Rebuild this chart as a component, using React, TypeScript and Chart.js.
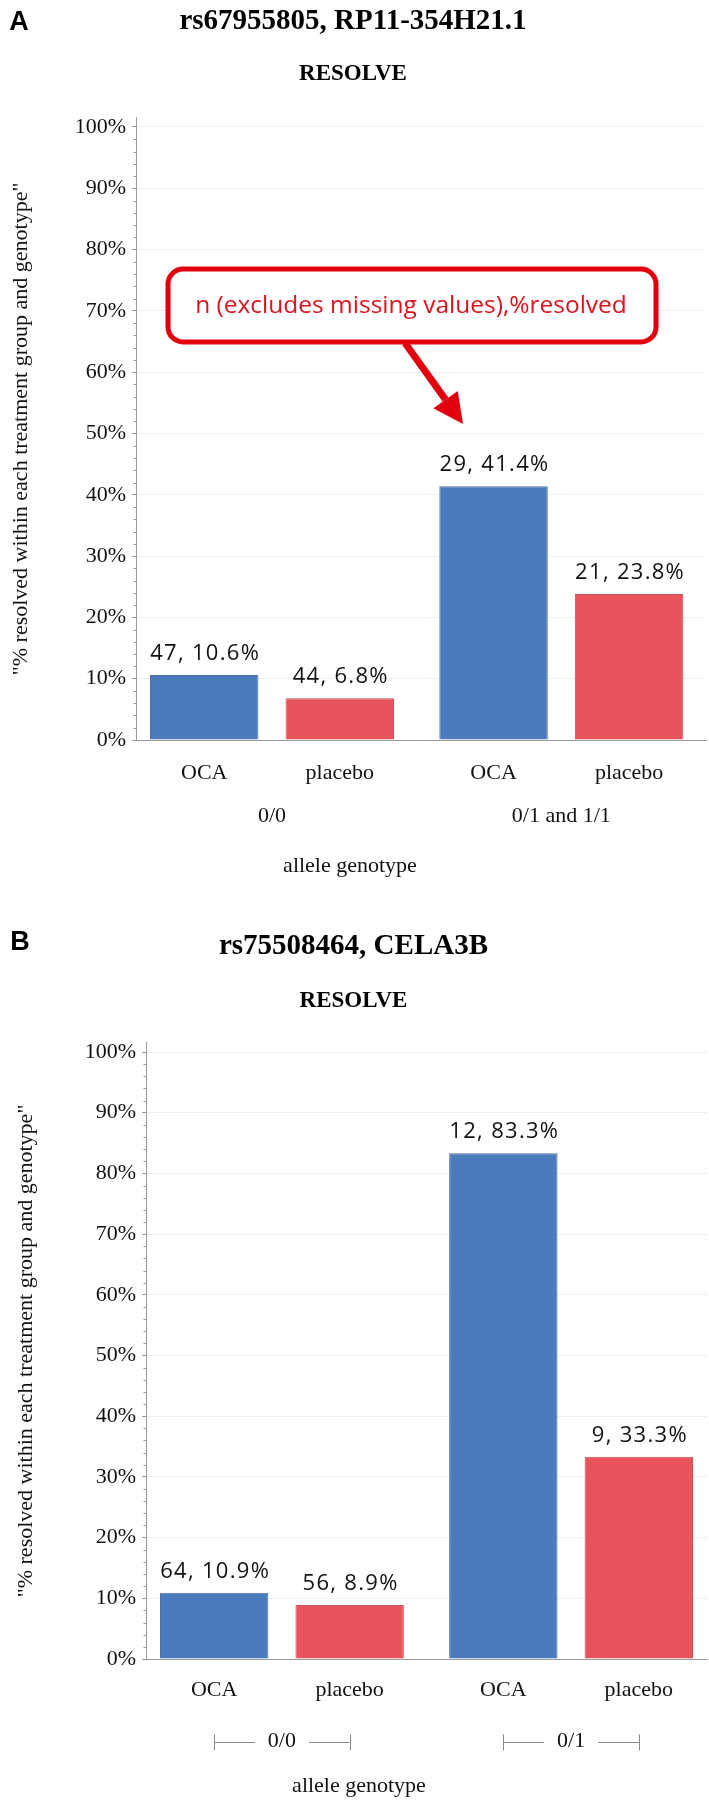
import React, { useEffect, useRef } from 'react';
import { Chart, registerables } from 'chart.js';

Chart.register(...registerables);

// ---------------- data ----------------
const TREATMENTS = ['OCA', 'placebo'];

const GENOTYPES_A = ['0/0', '0/1 and 1/1'];
const N_OCA_A = [47, 29];
const N_PLACEBO_A = [44, 21];
const PCT_OCA_A = [10.6, 41.4];
const PCT_PLACEBO_A = [6.8, 23.8];

const GENOTYPES_B = ['0/0', '0/1'];
const N_OCA_B = [64, 12];
const N_PLACEBO_B = [56, 9];
const PCT_OCA_B = [10.9, 83.3];
const PCT_PLACEBO_B = [8.9, 33.3];

const Y_TICK_VALUES = [0, 10, 20, 30, 40, 50, 60, 70, 80, 90, 100];
const Y_MINOR_STEP = 2;
const Y_MAX = 101.5;

const TITLE_A = 'rs67955805, RP11-354H21.1';
const TITLE_B = 'rs75508464, CELA3B';
const SUBTITLE = 'RESOLVE';
const Y_TITLE = '"% resolved within each treatment group and genotype"';
const X_TITLE = 'allele genotype';
const ANNOTATION = 'n (excludes missing values),%resolved';

// ---------------- styles ----------------
const BLUE = '#4a7bbd';
const BLUE_EDGE = '#4f6f9e';
const RED = '#e8535c';
const RED_EDGE = '#c0545a';
const AXIS = '#9b9b9b';
const SERIF = '"Liberation Serif", "Times New Roman", serif';
const SANS = '"Open Sans", "Noto Sans", sans-serif';

type Layout = {
  letter: string;
  height: number;
  axisX: number;
  rightPad: number;
  catPadStart: number;
  catPadEnd: number;
  titlePadTop: number;
  subPadTop: number;
  subPadBottom: number;
  bottomPad: number;
  yTitlePad: number;
  letterX: number;
  letterY: number;
  treatOff: number;
  groupOff: number;
  xTitleOff: number;
  xTitleX: number;
  brackets: boolean;
  annotation: boolean;
};

const LAYOUT_A: Layout = {
  letter: 'A', height: 900, axisX: 136, rightPad: 3,
  catPadStart: 0.47, catPadEnd: 0.5,
  titlePadTop: 4.6, subPadTop: 21.3, subPadBottom: 29.5, bottomPad: 160,
  yTitlePad: 8, letterX: 19, letterY: 23,
  treatOff: 33, groupOff: 76.5, xTitleOff: 126, xTitleX: 350,
  brackets: false, annotation: true,
};

const LAYOUT_B: Layout = {
  letter: 'B', height: 902, axisX: 146, rightPad: 2,
  catPadStart: 0.47, catPadEnd: 0.47,
  titlePadTop: 29.6, subPadTop: 23.3, subPadBottom: 27.6, bottomPad: 143,
  yTitlePad: 13, letterX: 20, letterY: 43,
  treatOff: 31, groupOff: 82.5, xTitleOff: 127, xTitleX: 359,
  brackets: true, annotation: false,
};

function roundRectPath(ctx: CanvasRenderingContext2D, x: number, y: number, w: number, h: number, r: number) {
  ctx.beginPath();
  ctx.moveTo(x + r, y);
  ctx.arcTo(x + w, y, x + w, y + h, r);
  ctx.arcTo(x + w, y + h, x, y + h, r);
  ctx.arcTo(x, y + h, x, y, r);
  ctx.arcTo(x, y, x + w, y, r);
  ctx.closePath();
}

function makeDecor(L: Layout, groups: string[], counts: number[][], pcts: number[][]) {
  return {
    id: 'decor' + L.letter,
    afterDraw(chart: any) {
      const { ctx, chartArea } = chart;
      const xs = chart.scales.x;
      const ys = chart.scales.y;
      ctx.save();

      // minor ticks on y axis
      ctx.strokeStyle = AXIS;
      ctx.lineWidth = 1;
      for (let v = 0; v <= 100; v += Y_MINOR_STEP) {
        if (Y_TICK_VALUES.includes(v)) continue;
        const y = Math.round(ys.getPixelForValue(v)) + 0.5;
        ctx.beginPath();
        ctx.moveTo(chartArea.left - 2.5, y);
        ctx.lineTo(chartArea.left, y);
        ctx.stroke();
      }

      // panel letter
      ctx.fillStyle = '#000';
      ctx.font = 'bold 27px "Liberation Sans", Arial, sans-serif';
      ctx.textAlign = 'center';
      ctx.textBaseline = 'middle';
      ctx.fillText(L.letter, L.letterX, L.letterY);

      // value labels + treatment labels
      for (let d = 0; d < 2; d++) {
        const meta = chart.getDatasetMeta(d);
        meta.data.forEach((bar: any, i: number) => {
          const txt = `${counts[d][i]}, ${pcts[d][i].toFixed(1)}%`;
          ctx.font = `22px ${SANS}`;
          (ctx as any).letterSpacing = '1.3px';
          ctx.fillStyle = '#111';
          ctx.textAlign = 'center';
          ctx.textBaseline = 'alphabetic';
          ctx.fillText(txt, bar.x + 1, bar.y - 15);
          (ctx as any).letterSpacing = '0px';

          ctx.font = `22px ${SERIF}`;
          ctx.textBaseline = 'middle';
          ctx.fillText(TREATMENTS[d], bar.x, chartArea.bottom + L.treatOff);
        });
      }

      // genotype group labels
      const m0 = chart.getDatasetMeta(0);
      const m1 = chart.getDatasetMeta(1);
      ctx.font = `22px ${SERIF}`;
      ctx.textAlign = 'center';
      ctx.textBaseline = 'middle';
      ctx.fillStyle = '#111';
      groups.forEach((g, i) => {
        const gy = chartArea.bottom + L.groupOff;
        if (L.brackets) {
          const lx = m0.data[i].x;
          const rx = m1.data[i].x;
          const cx = (lx + rx) / 2;
          const w = ctx.measureText(g).width;
          const gap = 13;
          ctx.fillText(g, cx, gy);
          ctx.strokeStyle = '#8a8a8a';
          ctx.lineWidth = 1;
          const yl = Math.round(gy) + 0.5;
          ctx.beginPath();
          ctx.moveTo(lx, yl);
          ctx.lineTo(cx - w / 2 - gap, yl);
          ctx.moveTo(cx + w / 2 + gap, yl);
          ctx.lineTo(rx, yl);
          ctx.moveTo(Math.round(lx) + 0.5, yl - 8);
          ctx.lineTo(Math.round(lx) + 0.5, yl + 8);
          ctx.moveTo(Math.round(rx) + 0.5, yl - 8);
          ctx.lineTo(Math.round(rx) + 0.5, yl + 8);
          ctx.stroke();
        } else {
          ctx.fillText(g, xs.getPixelForValue(i), gy);
        }
      });

      // x axis title
      ctx.font = `22px ${SERIF}`;
      ctx.fillText(X_TITLE, L.xTitleX, chartArea.bottom + L.xTitleOff);

      // annotation callout
      if (L.annotation) {
        const red = '#e2000f';
        const sx = 405, sy = 343, tx = 463, ty = 424;
        const ang = Math.atan2(ty - sy, tx - sx);
        const headLen = 30, headW = 15;
        const bx = tx - headLen * Math.cos(ang);
        const by = ty - headLen * Math.sin(ang);
        ctx.strokeStyle = red;
        ctx.fillStyle = red;
        ctx.lineWidth = 7;
        ctx.lineCap = 'butt';
        ctx.beginPath();
        ctx.moveTo(sx, sy);
        ctx.lineTo(bx, by);
        ctx.stroke();
        ctx.beginPath();
        ctx.moveTo(tx, ty);
        ctx.lineTo(bx + headW * Math.sin(ang), by - headW * Math.cos(ang));
        ctx.lineTo(bx - headW * Math.sin(ang), by + headW * Math.cos(ang));
        ctx.closePath();
        ctx.fill();
        roundRectPath(ctx, 168, 269, 488, 73, 15);
        ctx.fillStyle = '#fff';
        ctx.fill();
        ctx.lineWidth = 5;
        ctx.strokeStyle = red;
        ctx.stroke();
        ctx.fillStyle = '#d9141c';
        ctx.font = `24.5px ${SANS}`;
        ctx.textAlign = 'center';
        ctx.textBaseline = 'middle';
        ctx.fillText(ANNOTATION, 411, 306);
      }
      ctx.restore();
    },
  };
}

function BarPanel(props: {
  L: Layout; title: string; groups: string[];
  nOca: number[]; nPlacebo: number[]; pctOca: number[]; pctPlacebo: number[];
}) {
  const { L, title, groups, nOca, nPlacebo, pctOca, pctPlacebo } = props;
  const ref = useRef<HTMLCanvasElement>(null);

  useEffect(() => {
    if (!ref.current) return;
    const chart = new Chart(ref.current, {
      type: 'bar',
      data: {
        labels: groups,
        datasets: [
          {
            label: TREATMENTS[0], data: pctOca, backgroundColor: BLUE,
            borderColor: BLUE_EDGE, borderWidth: 1,
            categoryPercentage: 0.937, barPercentage: 0.8,
          },
          {
            label: TREATMENTS[1], data: pctPlacebo, backgroundColor: RED,
            borderColor: RED_EDGE, borderWidth: 1,
            categoryPercentage: 0.937, barPercentage: 0.8,
          },
        ],
      },
      options: {
        responsive: false,
        animation: false,
        devicePixelRatio: 1,
        events: [],
        layout: { padding: { left: 0, top: 0, right: L.rightPad, bottom: L.bottomPad } },
        plugins: {
          legend: { display: false },
          tooltip: { enabled: false },
          title: {
            display: true, text: title, color: '#000',
            font: { family: SERIF, size: 29, weight: 'bold', lineHeight: 1.2 },
            padding: { top: L.titlePadTop, bottom: 0 },
          },
          subtitle: {
            display: true, text: SUBTITLE, color: '#000',
            font: { family: SERIF, size: 23, weight: 'bold', lineHeight: 1.2 },
            padding: { top: L.subPadTop, bottom: L.subPadBottom },
          },
        },
        scales: {
          x: {
            type: 'category',
            offset: true,
            grid: { display: true, color: 'rgba(0,0,0,0)', drawTicks: false },
            border: { display: true, color: AXIS, width: 1 },
            ticks: { display: false },
            afterBuildTicks: (s: any) => {
              // category padding at the two ends of the axis (in category units)
              const n = s.getLabels().length;
              s._startValue = -L.catPadStart;
              s._valueRange = (n - 1) + L.catPadStart + L.catPadEnd;
            },
            afterFit: (s: any) => { s.height = 0; },
          },
          y: {
            type: 'linear',
            min: 0,
            max: Y_MAX,
            afterBuildTicks: (s: any) => { s.ticks = Y_TICK_VALUES.map((v) => ({ value: v })); },
            afterFit: (s: any) => { s.width = L.axisX; },
            ticks: {
              callback: (v: any) => `${v}%`,
              color: '#111',
              font: { family: SERIF, size: 22 },
              padding: 6,
              autoSkip: false,
            },
            grid: { color: '#efefef', tickColor: AXIS, tickLength: 4, drawTicks: true, lineWidth: 1 },
            border: { display: true, color: AXIS, width: 1 },
            title: {
              display: true, text: Y_TITLE, color: '#111',
              font: { family: SERIF, size: 22, lineHeight: 1.2 },
              padding: { top: L.yTitlePad, bottom: 0 },
            },
          },
        },
      } as any,
      plugins: [makeDecor(L, groups, [nOca, nPlacebo], [pctOca, pctPlacebo])],
    });
    return () => chart.destroy();
  }, []);

  return <canvas ref={ref} width={709} height={L.height} style={{ display: 'block' }} />;
}

export default function App() {
  return (
    <div style={{ position: 'absolute', left: 0, top: 0, width: 709, height: 1802, background: '#fff' }}>
      <BarPanel L={LAYOUT_A} title={TITLE_A} groups={GENOTYPES_A}
        nOca={N_OCA_A} nPlacebo={N_PLACEBO_A} pctOca={PCT_OCA_A} pctPlacebo={PCT_PLACEBO_A} />
      <BarPanel L={LAYOUT_B} title={TITLE_B} groups={GENOTYPES_B}
        nOca={N_OCA_B} nPlacebo={N_PLACEBO_B} pctOca={PCT_OCA_B} pctPlacebo={PCT_PLACEBO_B} />
    </div>
  );
}
